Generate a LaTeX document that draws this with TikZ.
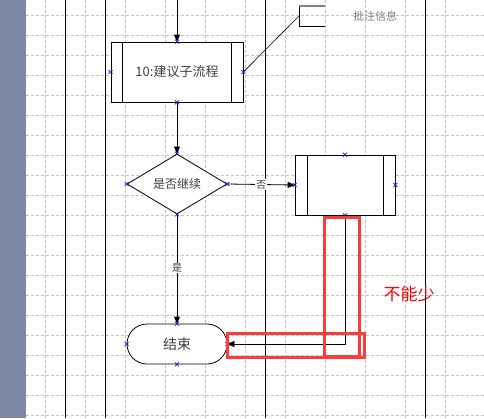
\documentclass[tikz,border=0pt]{standalone}
\usepackage{fontspec}
\newfontfamily\cjk{Noto Sans CJK SC}
\usetikzlibrary{shapes.geometric,arrows.meta,calc}
\definecolor{strip}{RGB}{126,136,164}
\definecolor{gridc}{RGB}{195,195,195}
\definecolor{txt}{RGB}{64,64,64}
\definecolor{redm}{RGB}{250,60,60}
\definecolor{mk}{RGB}{20,20,230}
\tikzset{
  lane/.style={line width=1pt,black},
  gridl/.style={gridc,line width=0.7pt,dash pattern=on 3pt off 2pt},
  shp/.style={draw,line width=0.8pt,inner sep=0pt,fill=white,text=txt,font=\cjk},
  conn/.style={line width=0.8pt,-{Triangle[length=7pt,width=6pt]}},
  lbl/.style={fill=white,inner sep=1pt,text=txt,font=\cjk\fontsize{10}{10}\selectfont},
  redbox/.style={draw=redm,line width=3pt},
}
\newcommand{\cmark}[1]{\draw[mk,line width=0.6pt] ($(#1)+(-2pt,-2pt)$)--($(#1)+(2pt,2pt)$) ($(#1)+(-2pt,2pt)$)--($(#1)+(2pt,-2pt)$);}
\begin{document}
\begin{tikzpicture}[x=1pt,y=-1pt]
\useasboundingbox (0,0) rectangle (484,418);
\fill[white] (0,0) rectangle (484,418);
% grid
\foreach \x in {45,85,...,465} \draw[gridl] (\x,0) -- (\x,418);
\foreach \y in {15,35,...,415} \draw[gridl] (26,\y) -- (484,\y);
% left strip
\fill[strip] (0,0) rectangle (26,418);
% lanes
\foreach \x in {65,105,265,425} \draw[lane] (\x,0) -- (\x,418);
% nodes
\node[shp,minimum width=132pt,minimum height=60pt,font=\cjk\fontsize{13}{13}\selectfont] (sub) at (177,72) {10:建议子流程};
\draw[line width=0.8pt] ([xshift=12pt]sub.north west) -- ([xshift=12pt]sub.south west)
  ([xshift=-12pt]sub.north east) -- ([xshift=-12pt]sub.south east);
\node[shp,diamond,minimum width=100pt,minimum height=60pt,font=\cjk\fontsize{12}{12}\selectfont] (dec) at (177,184) {是否继续};
\node[shp,minimum width=100pt,minimum height=60pt] (box) at (345,185) {};
\draw[line width=0.8pt] ([xshift=13pt]box.north west) -- ([xshift=13pt]box.south west)
  ([xshift=-12pt]box.north east) -- ([xshift=-12pt]box.south east);
\node[shp,minimum width=100pt,minimum height=40pt,rounded corners=20pt,font=\cjk\fontsize{14}{14}\selectfont] (end) at (177,344) {结束};
% annotation
\coordinate (br) at (299,16);
\draw[line width=0.6pt] (sub.east) -- (br);
\draw[line width=0.8pt] (325,26) -- (299,26) -- (299,6);
\draw[gray,line width=1.5pt] (299,6) -- (325,6);
\node[text=gray,font=\cjk\fontsize{11}{11}\selectfont] (note) at (375,16) {批注信息};
% connectors
\coordinate (top) at (177,0);
\draw[conn] (top) -- (sub.north);
\draw[conn] (sub.south) -- (dec.north);
\draw[conn] (dec.east) -- node[lbl] {否} (box.west);
\draw[conn] (dec.south) -- node[lbl,pos=0.49] {是} (end.north);
\draw[conn] (box.south) |- (end.east);
% connection markers
\foreach \n in {sub,dec,box,end} {\foreach \a in {north,south,east,west} {\cmark{\n.\a}}}
% red marks
\draw[redbox] (324,217) rectangle (359,356);
\draw[redbox] (227,333) rectangle (364,357);
\node[text=red,font=\cjk\fontsize{17}{17}\selectfont] (must) at (409,294) {不能少};
\end{tikzpicture}
\end{document}
